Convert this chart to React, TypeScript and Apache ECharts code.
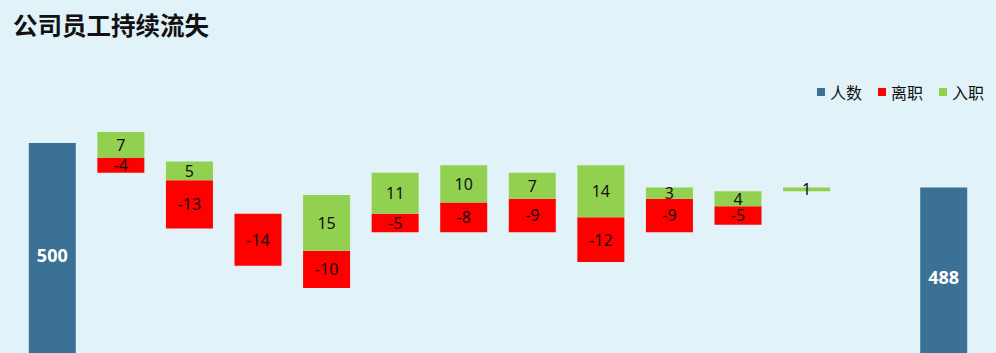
import React, { useEffect, useRef } from "react";
import * as echarts from "echarts";

const categories = ["期初", "1月", "2月", "3月", "4月", "5月", "6月", "7月", "8月", "9月", "10月", "11月", "12月", "期末"];
const startCount = 500;
const inflow = [7, 5, 0, 15, 11, 10, 7, 14, 3, 4, 1, 0];
const outflow = [-4, -13, -14, -10, -5, -8, -9, -12, -9, -5, 0, 0];
const legendNames = ["人数", "离职", "入职"];

export default function App() {
  const ref = useRef<HTMLDivElement>(null);
  useEffect(() => {
    if (!ref.current) return;
    const chart = echarts.init(ref.current, undefined, { renderer: "svg" });

    const base: (number | string)[] = ["-"];
    const red: (number | string)[] = ["-"];
    const green: (number | string)[] = ["-"];
    const total: (number | string)[] = [startCount];
    let cum = startCount;
    for (let i = 0; i < inflow.length; i++) {
      const inn = inflow[i];
      const out = Math.abs(outflow[i]);
      cum = cum + inn - out;
      base.push(cum - inn - out);
      red.push(out);
      green.push(inn);
      total.push("-");
    }
    base.push("-");
    red.push("-");
    green.push("-");
    total.push(cum);

    const labelFont = { fontFamily: "Noto Sans", fontSize: 16, color: "#111" };

    chart.setOption({
      animation: false,
      backgroundColor: "#E1F3F8",
      title: {
        text: "公司员工持续流失",
        left: 8,
        top: 7,
        textStyle: { fontFamily: "Noto Sans CJK SC", fontWeight: "bold", fontSize: 24.5, color: "#111" },
      },
      legend: {
        data: legendNames,
        right: 7,
        top: 79,
        itemWidth: 8,
        itemHeight: 8,
        itemGap: 16,
        icon: "rect",
        textStyle: { fontFamily: "Noto Sans CJK SC", fontSize: 16, color: "#111" },
      },
      grid: { left: 18, width: 960, top: 68.7, height: 297.3 },
      xAxis: { type: "category", data: categories, show: false },
      yAxis: { type: "value", min: 440, max: 520, startValue: 440, show: false },
      series: [
        {
          name: "base",
          type: "bar",
          stack: "w",
          barWidth: 47,
          data: base,
          itemStyle: { color: "transparent" },
          label: { show: false },
          emphasis: { disabled: true },
        },
        {
          name: "人数",
          type: "bar",
          stack: "w",
          barWidth: 47,
          data: total,
          itemStyle: { color: "#3C7196" },
          label: {
            show: true,
            position: "inside",
            fontFamily: "Noto Sans",
            fontWeight: "bold",
            fontSize: 18,
            color: "#fff",
          },
        },
        {
          name: "离职",
          type: "bar",
          stack: "w",
          barWidth: 47,
          data: red,
          itemStyle: { color: "#FF0000" },
          label: {
            show: true,
            position: "inside",
            ...labelFont,
            formatter: (p: any) => (p.value > 0 ? "-" + p.value : ""),
          },
        },
        {
          name: "入职",
          type: "bar",
          stack: "w",
          barWidth: 47,
          data: green,
          itemStyle: { color: "#92D050" },
          label: {
            show: true,
            position: "inside",
            ...labelFont,
            formatter: (p: any) => (p.value > 0 ? String(p.value) : ""),
          },
        },
      ],
    });
    return () => chart.dispose();
  }, []);
  return (
    <div
      style={{
        position: "absolute",
        left: 0,
        top: 0,
        width: 996,
        height: 353,
        overflow: "hidden",
        background: "#E1F3F8",
      }}
    >
      <div ref={ref} style={{ width: 996, height: 380 }} />
    </div>
  );
}
